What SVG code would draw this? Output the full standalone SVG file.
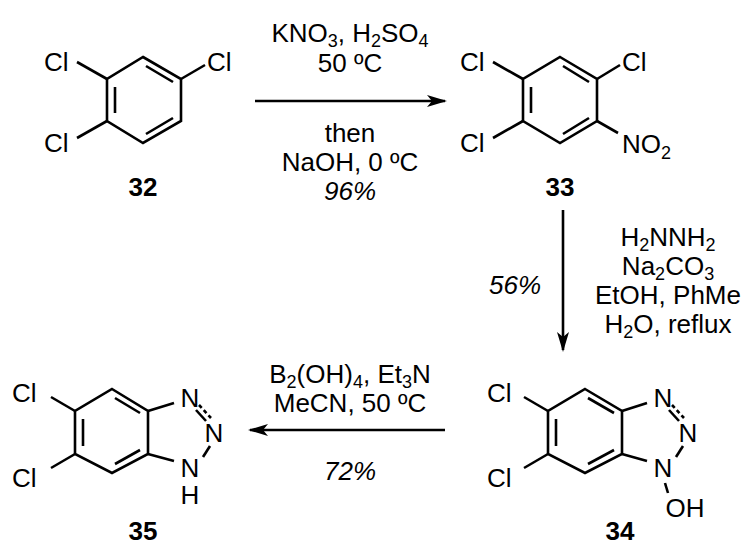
<svg xmlns="http://www.w3.org/2000/svg" width="748" height="554" viewBox="0 0 748 554">
<defs>
<style>
text{font-family:"Liberation Sans",Arial,sans-serif;font-size:26px;fill:#000}
.b{font-weight:bold;text-anchor:middle}
.i{font-style:italic}
.m{text-anchor:middle}
.s{font-size:18px}
line,path{stroke:#000;stroke-width:2.6;fill:none}
.d{stroke-dasharray:4 3}
</style>
<marker id="ah" viewBox="0 0 20 12" refX="18" refY="6" markerWidth="20" markerHeight="12" markerUnits="userSpaceOnUse" orient="auto"><path d="M0,0 L20,6 L0,12 L5,6 Z" style="fill:#000;stroke:none"/></marker>
</defs>
<rect width="748" height="554" fill="#fff"/>
<g id="m32">
<path d="M143,57 L181,79 L181,121 L143,143 L107,121 L107,79 Z"/>
<line x1="115" y1="87" x2="115" y2="113"/>
<line x1="146" y1="66" x2="173" y2="82"/>
<line x1="146" y1="134" x2="173" y2="118"/>
<line x1="107" y1="79" x2="77" y2="62"/>
<line x1="181" y1="79" x2="205" y2="65"/>
<line x1="107" y1="121" x2="77" y2="138"/>
<text x="44" y="71">Cl</text><text x="207" y="71">Cl</text><text x="44" y="152">Cl</text>
<text x="143" y="196" class="b">32</text>
</g>
<g id="m33">
<path d="M560,57 L597,79 L597,121 L560,143 L523,121 L523,79 Z"/>
<line x1="531" y1="87" x2="531" y2="113"/>
<line x1="563" y1="66" x2="589" y2="82"/>
<line x1="563" y1="134" x2="589" y2="118"/>
<line x1="523" y1="79" x2="493" y2="62"/>
<line x1="597" y1="79" x2="620" y2="65"/>
<line x1="523" y1="121" x2="493" y2="138"/>
<line x1="597" y1="121" x2="618" y2="133"/>
<text x="460" y="71">Cl</text><text x="622" y="71">Cl</text><text x="460" y="152">Cl</text>
<text x="622" y="153">NO<tspan class="s" dy="6">2</tspan></text>
<text x="560" y="196" class="b">33</text>
</g>
<g id="m34">
<path d="M585,389 L622,411 L622,454 L585,473 L548,454 L548,411 Z"/>
<line x1="556" y1="419" x2="556" y2="446"/>
<line x1="588" y1="398" x2="614" y2="413"/>
<line x1="588" y1="464" x2="614" y2="450"/>
<line x1="548" y1="411" x2="524" y2="397"/>
<line x1="548" y1="454" x2="524" y2="468"/>
<line x1="622" y1="411" x2="647" y2="403"/>
<line x1="622" y1="454" x2="647" y2="461"/>
<line x1="669" y1="410" x2="679" y2="421"/>
<line x1="672" y1="405" x2="684" y2="418" class="d"/>
<line x1="683" y1="446" x2="676" y2="457"/>
<line x1="665" y1="483" x2="668" y2="493"/>
<text x="487" y="402">Cl</text><text x="487" y="487">Cl</text>
<text x="663" y="407" class="m">N</text>
<text x="688" y="442" class="m">N</text>
<text x="663" y="477" class="m">N</text>
<text x="685" y="517" class="m">OH</text>
<text x="620" y="540" class="b">34</text>
</g>
<g id="m35">
<path d="M112,389 L148,411 L148,454 L112,473 L75,454 L75,411 Z"/>
<line x1="83" y1="419" x2="83" y2="446"/>
<line x1="115" y1="398" x2="140" y2="413"/>
<line x1="115" y1="464" x2="140" y2="450"/>
<line x1="75" y1="411" x2="51" y2="397"/>
<line x1="75" y1="454" x2="51" y2="468"/>
<line x1="148" y1="411" x2="174" y2="403"/>
<line x1="148" y1="454" x2="174" y2="461"/>
<line x1="196" y1="410" x2="206" y2="421"/>
<line x1="199" y1="405" x2="211" y2="418" class="d"/>
<line x1="210" y1="446" x2="203" y2="457"/>
<text x="12" y="402">Cl</text><text x="12" y="487">Cl</text>
<text x="190" y="407" class="m">N</text>
<text x="214" y="442" class="m">N</text>
<text x="190" y="477" class="m">N</text>
<text x="190" y="504" class="m">H</text>
<text x="143" y="540" class="b">35</text>
</g>
<g id="connectors">
<line x1="255" y1="101" x2="445" y2="101" marker-end="url(#ah)"/>
<line x1="563" y1="210" x2="563" y2="350" marker-end="url(#ah)"/>
<line x1="445" y1="430" x2="250" y2="430" marker-end="url(#ah)"/>
</g>
<g id="labels">
<text x="350" y="42" class="m">KNO<tspan class="s" dy="5">3</tspan><tspan dy="-5">, H</tspan><tspan class="s" dy="5">2</tspan><tspan dy="-5">SO</tspan><tspan class="s" dy="5">4</tspan></text>
<text x="350" y="72" class="m">50 ºC</text>
<text x="350" y="142" class="m">then</text>
<text x="350" y="171" class="m">NaOH, 0 ºC</text>
<text x="350" y="200" class="m i">96%</text>
<text x="668" y="246" class="m">H<tspan class="s" dy="5">2</tspan><tspan dy="-5">NNH</tspan><tspan class="s" dy="5">2</tspan></text>
<text x="668" y="275" class="m">Na<tspan class="s" dy="5">2</tspan><tspan dy="-5">CO</tspan><tspan class="s" dy="5">3</tspan></text>
<text x="668" y="304" class="m">EtOH, PhMe</text>
<text x="668" y="333" class="m">H<tspan class="s" dy="5">2</tspan><tspan dy="-5">O, reflux</tspan></text>
<text x="515" y="294" class="m i">56%</text>
<text x="350" y="383" class="m">B<tspan class="s" dy="5">2</tspan><tspan dy="-5">(OH)</tspan><tspan class="s" dy="5">4</tspan><tspan dy="-5">, Et</tspan><tspan class="s" dy="5">3</tspan><tspan dy="-5">N</tspan></text>
<text x="350" y="412" class="m">MeCN, 50 ºC</text>
<text x="350" y="480" class="m i">72%</text>
</g>
</svg>
